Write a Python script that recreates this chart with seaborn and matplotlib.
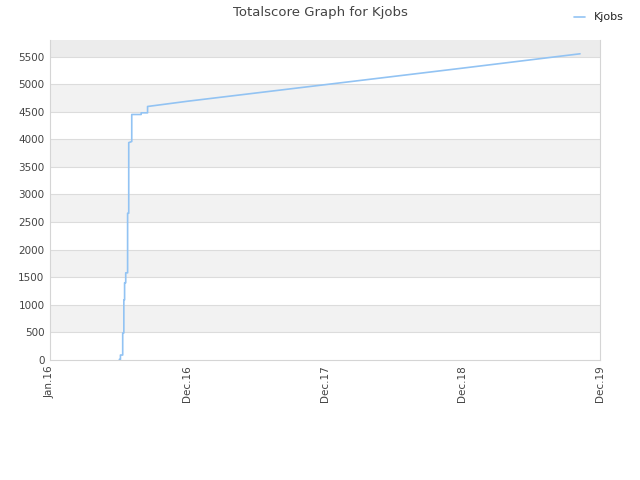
import matplotlib
matplotlib.use("Agg")
import matplotlib.pyplot as plt
import seaborn as sns
import pandas as pd
import numpy as np

# Data
dates = ["2016-07-03", "2016-07-06", "2016-07-06", "2016-07-12", "2016-07-12",
         "2016-07-15", "2016-07-15", "2016-07-17", "2016-07-17", "2016-07-20",
         "2016-07-20", "2016-07-25", "2016-07-25", "2016-07-28", "2016-07-28",
         "2016-08-05", "2016-08-05", "2016-08-30", "2016-08-30", "2016-09-16",
         "2016-09-16", "2016-12-31", "2017-12-31", "2018-12-31", "2019-11-08"]
scores = [10, 10, 90, 90, 490,
          490, 1090, 1090, 1400, 1400,
          1580, 1580, 2660, 2660, 3940,
          3960, 4450, 4450, 4480, 4480,
          4595, 4690, 4990, 5290, 5550]
series_name = "Kjobs"
tick_labels = ["Jan.16", "Dec.16", "Dec.17", "Dec.18", "Dec.19"]
y_ticks = [0, 500, 1000, 1500, 2000, 2500, 3000, 3500, 4000, 4500, 5000, 5500]

df = pd.DataFrame({"date": pd.to_datetime(dates), "score": scores, "name": series_name})

sns.set_style("white")
plt.rcParams['font.family'] = ['DejaVu Sans']

fig = plt.figure(figsize=(6.4, 4.8), dpi=100)
ax = fig.add_axes([50/640, 120/480, 550/640, 320/480])

start = pd.Timestamp("2016-01-01")
end = start + pd.Timedelta(days=1460)
tick_pos = [start + pd.Timedelta(days=365 * k) for k in range(5)]

ymax = 5800
# alternating bands
for i, lo in enumerate(y_ticks):
    hi = lo + 500
    if i % 2 == 1:
        ax.axhspan(lo, hi, color="#f2f2f2", zorder=0, lw=0)
ax.axhspan(5500, ymax, color="#ececec", zorder=0, lw=0)
for y in y_ticks[1:]:
    ax.axhline(y, color="#dcdcdc", lw=0.8, zorder=1)

sns.lineplot(data=df, x="date", y="score", ax=ax, color="#92c3f3", lw=1.2,
             sort=False, estimator=None, legend=False, zorder=3)

ax.set_xlim(start, end)
ax.set_ylim(0, ymax)
ax.set_xticks(tick_pos)
ax.set_xticklabels(tick_labels, rotation=90, fontsize=7.5, color="#444444")
ax.set_yticks(y_ticks)
ax.set_yticklabels([str(v) for v in y_ticks], fontsize=7.5, color="#444444")
ax.set_xlabel("")
ax.set_ylabel("")
ax.tick_params(axis="both", length=0, pad=4)

for side in ["left", "right", "bottom"]:
    ax.spines[side].set_visible(True)
    ax.spines[side].set_color("#d5d5d5")
    ax.spines[side].set_linewidth(0.8)
ax.spines["top"].set_visible(False)

fig.suptitle("Totalscore Graph for Kjobs", y=0.988, fontsize=9.5, color="#444444")

handle = plt.Line2D([], [], color="#92c3f3", lw=1.2)
fig.legend([handle], [series_name], loc="upper right", bbox_to_anchor=(0.99, 0.995),
           frameon=False, fontsize=8, handlelength=1.0, handletextpad=0.8)

fig.savefig("out.png", dpi=100)
